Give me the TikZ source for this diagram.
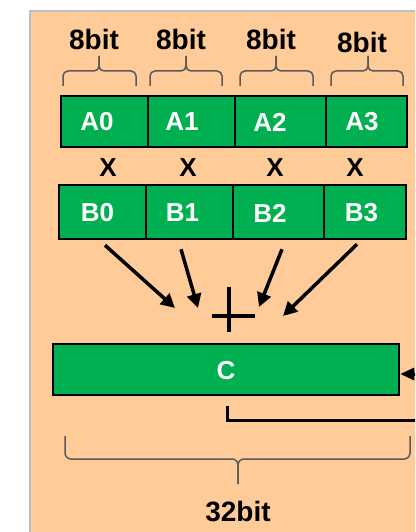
\documentclass[tikz,border=0pt]{standalone}
\usepackage{fontspec}
\setmainfont{Liberation Sans}
\usetikzlibrary{arrows.meta,calc}

\definecolor{peach}{HTML}{FFCC99}
\definecolor{cellgreen}{HTML}{00B050}
\definecolor{bracegray}{HTML}{595959}
\definecolor{framegray}{HTML}{BFBFBF}

\begin{document}
\begin{tikzpicture}[
  x=1pt, y=-1pt,
  cell/.style={draw=black, fill=cellgreen, line width=2.5pt, inner sep=0pt},
  celltxt/.style={text=white, font=\fontsize{26}{28}\selectfont\bfseries, inner sep=0pt},
  bits/.style={font=\fontsize{28}{30}\selectfont\bfseries, inner sep=0pt},
  times/.style={font=\fontsize{26}{28}\selectfont\bfseries, inner sep=0pt},
  brc/.style={draw=bracegray, line width=1.5pt, rounded corners=5pt},
  arr/.style={-{Triangle[length=14pt,width=14pt]}, line width=3.5pt},
  back/.style={-{Triangle[length=14pt,width=12pt]}, line width=3pt}
]
  \useasboundingbox (0,0) rectangle (415,532);
  \clip (0,0) rectangle (415,532);

  % panel
  \fill[peach] (30,11) rectangle (430,545);
  \draw[framegray, line width=2pt] (30,545) -- (30,11) -- (430,11);

  % byte widths
  \node[bits] (w0) at (94,39) {8bit};
  \node[bits] (w1) at (181,39) {8bit};
  \node[bits] (w2) at (271,39) {8bit};
  \node[bits] (w3) at (362,42) {8bit};

  \draw[brc] (63,86) |- (99,71) -- (99,56);
  \draw[brc] (136,86) |- (99,71) -- (99,56);
  \draw[brc] (150,86) |- (186,71) -- (186,56);
  \draw[brc] (222,86) |- (186,71) -- (186,56);
  \draw[brc] (240,86) |- (276,71) -- (276,56);
  \draw[brc] (313,86) |- (276,71) -- (276,56);
  \draw[brc] (331,86) |- (368,71) -- (368,56);
  \draw[brc] (403,86) |- (368,71) -- (368,56);

  % operand A
  \node[cell, minimum width=87pt, minimum height=51pt] (A0) at (104.5,121.5) {};
  \node[cell, minimum width=87pt, minimum height=51pt] (A1) at (191.5,121.5) {};
  \node[cell, minimum width=91pt, minimum height=51pt] (A2) at (280.5,121.5) {};
  \node[cell, minimum width=81pt, minimum height=51pt] (A3) at (366.5,121.5) {};
  \node[celltxt] (a0) at (97,122) {A0};
  \node[celltxt] (a1) at (182,122) {A1};
  \node[celltxt] (a2) at (270,122) {A2};
  \node[celltxt] (a3) at (362,122) {A3};

  \node[times] (x0) at (108,168) {X};
  \node[times] (x1) at (188,168) {X};
  \node[times] (x2) at (275,168) {X};
  \node[times] (x3) at (355,168) {X};

  % operand B
  \node[cell, minimum width=87pt, minimum height=54pt] (B0) at (102.5,212) {};
  \node[cell, minimum width=87pt, minimum height=54pt] (B1) at (189.5,212) {};
  \node[cell, minimum width=91pt, minimum height=54pt] (B2) at (278.5,212) {};
  \node[cell, minimum width=82pt, minimum height=54pt] (B3) at (365,212) {};
  \node[celltxt] (b0) at (97.5,213) {B0};
  \node[celltxt] (b1) at (182.5,213) {B1};
  \node[celltxt] (b2) at (270,213) {B2};
  \node[celltxt] (b3) at (361.5,213) {B3};

  % sum of the products
  \coordinate (t0) at (175,308);
  \coordinate (t1) at (198,308);
  \coordinate (t2) at (259,307);
  \coordinate (t3) at (283,316);
  \draw[arr] ([xshift=2.5pt,yshift=-5pt]B0.south) -- (t0);
  \draw[arr] ([xshift=-8.5pt,yshift=-9pt]B1.south) -- (t1);
  \draw[arr] ([xshift=3.5pt,yshift=-9pt]B2.south) -- (t2);
  \draw[arr] ([xshift=-8pt,yshift=-4pt]B3.south) -- (t3);

  \draw[line width=4pt] (212,316) -- (255,316) (229,287) -- (229,332);

  % accumulator
  \node[cell, minimum width=346pt, minimum height=51pt] (C) at (226,369.5) {};
  \node[celltxt] (c) at (226,371) {C};

  \coordinate (loop) at (430,420);
  \draw[back] ([xshift=1pt,yshift=-10pt]C.south) |- (loop) |- ([yshift=-4.5pt]C.east);

  \draw[brc, rounded corners=6pt] (65,436) |- (238,459) -- (238,484);
  \draw[brc, rounded corners=6pt] (410,436) |- (238,459) -- (238,484);
  \node[bits] (w32) at (238,512) {32bit};
\end{tikzpicture}
\end{document}
